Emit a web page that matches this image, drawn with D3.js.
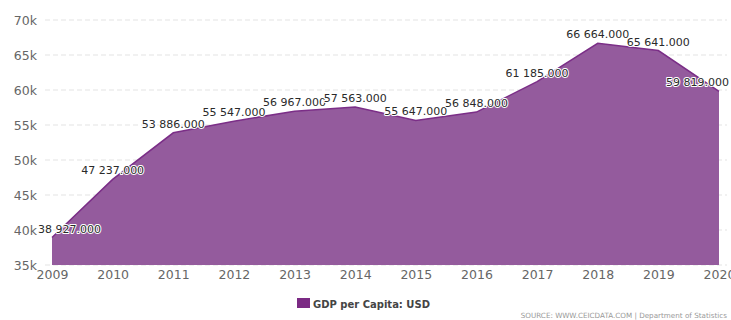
<!DOCTYPE html>
<html>
<head>
<meta charset="utf-8">
<script src="https://cdn.jsdelivr.net/npm/d3@7"></script>
<style>
  html, body { margin: 0; padding: 0; background: #fff; }
  svg { display: block; font-family: "DejaVu Sans", Verdana, sans-serif; }
</style>
</head>
<body>
<svg id="chart" width="731" height="320"></svg>
<script>
// GDP per capita, USD
const years = [2009, 2010, 2011, 2012, 2013, 2014, 2015, 2016, 2017, 2018, 2019, 2020];
const gdpPerCapita = [38927, 47237, 53886, 55547, 56967, 57563, 55647, 56848, 61185, 66664, 65641, 59819];
const yTicks = [35000, 40000, 45000, 50000, 55000, 60000, 65000, 70000];
const seriesName = "GDP per Capita: USD";
const sourceText = "SOURCE: WWW.CEICDATA.COM | Department of Statistics";

const svg = d3.select("#chart");

const x = d3.scaleLinear().domain([2009, 2020]).range([52, 719]);
const y = d3.scaleLinear().domain([35000, 70000]).range([265, 20]);

// horizontal dashed grid
svg.append("g")
  .selectAll("line")
  .data(yTicks)
  .join("line")
  .attr("x1", 45).attr("x2", 727)
  .attr("y1", d => y(d)).attr("y2", d => y(d))
  .attr("stroke", "#e3e3e3")
  .attr("stroke-dasharray", "5,3")
  .attr("stroke-width", 1);

// y axis labels
const yAxis = d3.axisLeft(y).tickValues(yTicks).tickSize(0).tickPadding(0)
  .tickFormat(d => (d / 1000) + "k");
svg.append("g")
  .attr("transform", "translate(37,0)")
  .call(yAxis)
  .call(g => g.select(".domain").remove())
  .call(g => g.selectAll("text")
    .attr("fill", "#666").attr("font-size", "12.5px")
    .attr("font-family", "DejaVu Sans, sans-serif"));

const pts = years.map((yr, i) => ({ yr, v: gdpPerCapita[i] }));

// area
const area = d3.area()
  .x(d => x(d.yr))
  .y0(y(35000))
  .y1(d => y(d.v));
svg.append("path")
  .datum(pts)
  .attr("d", area)
  .attr("fill", "#945b9d");

const line = d3.line().x(d => x(d.yr)).y(d => y(d.v));
svg.append("path")
  .datum(pts)
  .attr("d", line)
  .attr("fill", "none")
  .attr("stroke", "#7b2e87")
  .attr("stroke-width", 1.5);

// x axis labels
const xAxis = d3.axisBottom(x).tickValues(years).tickSize(0).tickPadding(0)
  .tickFormat(d3.format("d"));
svg.append("g")
  .attr("transform", "translate(0,270)")
  .call(xAxis)
  .call(g => g.select(".domain").remove())
  .call(g => g.selectAll("text")
    .attr("fill", "#666").attr("font-size", "12.5px")
    .attr("font-family", "DejaVu Sans, sans-serif"));

// value labels with white halo
const fmt = v => d3.format(",.3f")(v).replace(/,/g, " ");
const labels = svg.append("g")
  .selectAll("text")
  .data(pts)
  .join("text")
  .attr("font-size", "11px")
  .attr("text-anchor", "middle")
  .attr("fill", "#2a2a2a")
  .attr("stroke", "#fff")
  .attr("stroke-width", 2)
  .attr("stroke-linejoin", "round")
  .attr("paint-order", "stroke")
  .attr("y", d => y(d.v) - 5)
  .text(d => fmt(d.v));
labels.each(function (d) {
  const w = this.getComputedTextLength();
  let cx = x(d.yr);
  cx = Math.max(cx, 38 + w / 2);
  cx = Math.min(cx, 729 - w / 2);
  d3.select(this).attr("x", cx);
});

// legend
const legend = svg.append("g").attr("transform", "translate(297,298)");
legend.append("rect").attr("width", 13).attr("height", 10).attr("fill", "#7b2a84");
legend.append("text")
  .attr("x", 16).attr("y", 9.5)
  .attr("font-size", "10px").attr("font-weight", "bold")
  .attr("fill", "#444")
  .text(seriesName);

// source note
svg.append("text")
  .attr("x", 727).attr("y", 318)
  .attr("text-anchor", "end")
  .attr("font-size", "7.2px")
  .attr("fill", "#999")
  .text(sourceText);
</script>
</body>
</html>
